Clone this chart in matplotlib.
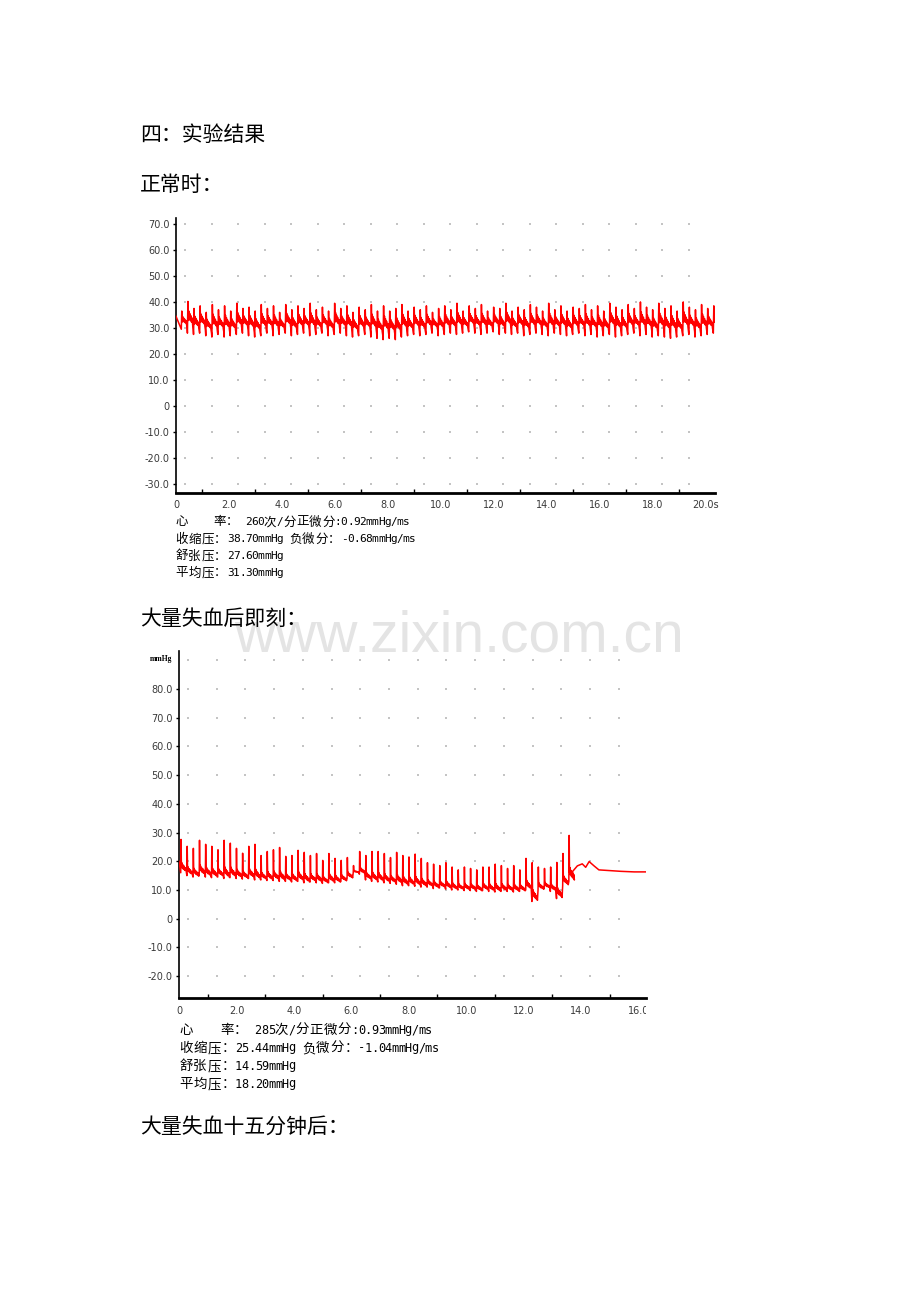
import numpy as np
import matplotlib
matplotlib.use("Agg")
from matplotlib import pyplot as plt
from matplotlib.transforms import Bbox, TransformedBbox

W, H = 920, 1302

# ---------------- chart 1: normal (正常时) ----------------
hr1 = 260                 # beats / min, from the stats box
first_beat1 = 0.20        # s, first upstroke
start_value1 = 34.5       # mmHg at t = 0
peaks1 = [36.5, 40.2, 37.5, 38.5, 36.0, 39.0, 37.0, 38.5, 36.5, 39.5, 37.5, 38.0, 36.5, 39.0, 37.5, 38.5, 36.0, 39.0, 37.0, 38.5, 37.5, 39.5,
          37.0, 38.0, 36.5, 39.5, 37.5, 38.5, 36.0, 38.0, 37.0, 39.0, 36.5, 38.5, 36.5, 37.5, 39.0, 36.5, 38.0, 37.0, 38.5, 36.0, 37.5, 38.5,
          37.0, 39.5, 36.5, 38.5, 37.5, 39.0, 36.5, 38.0, 37.5, 39.5, 36.5, 38.0, 37.0, 39.0, 38.0, 36.5, 39.5, 37.0, 38.5, 36.5, 38.0, 37.5,
          39.0, 37.0, 38.5, 36.5, 39.5, 38.0, 37.0, 39.0, 37.5, 40.0, 38.0, 37.0, 39.5, 37.5, 38.5, 36.5, 40.0, 38.0, 37.0, 39.0, 37.5, 38.5, 36.0]
troughs1 = [29.5, 28.0, 27.5, 28.0, 27.0, 26.5, 27.5, 26.5, 27.0, 27.5, 28.0, 27.0, 26.5, 27.0, 28.0, 27.0, 27.5, 28.0, 27.0, 27.5, 28.0, 27.0,
            27.5, 28.0, 27.0, 27.5, 28.0, 27.0, 26.5, 27.0, 27.5, 26.5, 26.0, 25.5, 26.0, 25.5, 26.5, 27.0, 27.5, 27.0, 27.5, 28.0, 27.0, 27.5,
            28.0, 27.5, 28.0, 28.5, 28.0, 27.5, 28.0, 28.5, 27.5, 28.0, 27.5, 28.0, 27.0, 27.5, 28.0, 27.5, 27.0, 28.0, 27.5, 27.0, 27.5, 28.0,
            27.0, 27.5, 26.5, 27.0, 27.5, 26.5, 27.0, 27.5, 28.0, 27.0, 27.5, 26.5, 27.0, 26.5, 26.0, 26.5, 27.0, 27.5, 26.5, 27.0, 27.5, 28.0, 28.5]
yticks1 = [70, 60, 50, 40, 30, 20, 10, 0, -10, -20, -30]
xlabels1 = ["0", "2.0", "4.0", "6.0", "8.0", "10.0", "12.0", "14.0", "16.0", "18.0", "20.0s"]
stats1 = ["心    率： 260次/分正微分:0.92mmHg/ms",
          "收缩压：38.70mmHg 负微分：-0.68mmHg/ms",
          "舒张压：27.60mmHg",
          "平均压：31.30mmHg"]

# ---------------- chart 2: right after heavy bleeding ----------------
first_beat2 = 0.06
beat_period2 = 0.2145
start_value2 = 20.0
peaks2 = [27.6, 25.2, 24.5, 27.3, 25.9, 25.2, 24.0, 27.3, 26.3, 24.5, 22.8, 25.2, 25.9, 22.0, 23.4, 24.0,
          24.8, 21.7, 22.0, 23.8, 23.1, 22.0, 22.7, 20.3, 22.7, 21.0, 20.3, 21.3, 18.5, 23.4, 22.0, 23.4,
          23.4, 22.7, 21.3, 23.1, 22.0, 21.5, 22.5, 21.0, 19.5, 19.0, 18.5, 19.5, 18.0, 17.0, 18.0, 17.5,
          17.0, 18.0, 18.0, 19.0, 18.5, 17.5, 18.5, 17.0, 21.0, 19.5, 18.0, 17.5, 18.0, 19.6, 22.7, 29.0]
troughs2 = [16.0, 15.0, 14.5, 15.0, 14.5, 14.3, 14.5, 14.0, 14.3, 14.0, 13.8, 14.0, 13.5, 13.5, 13.3, 13.3,
            13.0, 13.0, 12.8, 13.0, 12.5, 12.8, 12.5, 12.3, 12.5, 12.5, 13.0, 14.0, 16.0, 15.5, 13.5, 13.0,
            12.8, 12.5, 12.3, 12.0, 11.5, 11.5, 11.3, 11.0, 11.0, 10.5, 10.7, 10.3, 10.0, 10.0, 9.8, 9.8,
            9.5, 9.8, 9.5, 9.3, 9.5, 9.5, 9.3, 9.5, 10.0, 6.0, 10.0, 10.5, 9.5, 7.0, 11.5, 13.0]
tail_t2 = [13.70, 13.87, 14.04, 14.16, 14.28, 14.45, 14.62, 14.92, 15.38, 15.85, 16.30]
tail_v2 = [16.4, 18.4, 19.1, 17.9, 19.9, 18.4, 17.0, 16.8, 16.5, 16.3, 16.3]
yticks2 = [80, 70, 60, 50, 40, 30, 20, 10, 0, -10, -20]
xlabels2 = ["0", "2.0", "4.0", "6.0", "8.0", "10.0", "12.0", "14.0", "16.0"]
stats2 = ["心    率： 285次/分正微分:0.93mmHg/ms",
          "收缩压：25.44mmHg 负微分：-1.04mmHg/ms",
          "舒张压：14.59mmHg",
          "平均压：18.20mmHg"]

# beat outline (fraction of period, fraction of beat amplitude)
shape1 = [(0.0, 0.0), (0.08, 1.0), (0.15, 0.40), (0.22, 0.70), (0.30, 0.45), (0.38, 0.62),
          (0.47, 0.40), (0.56, 0.55), (0.66, 0.35), (0.76, 0.48), (0.86, 0.25), (0.94, 0.12)]
shape2 = [(0.0, 0.0), (0.05, 1.0), (0.11, 0.20), (0.18, 0.30), (0.26, 0.14), (0.35, 0.24),
          (0.45, 0.10), (0.56, 0.20), (0.68, 0.07), (0.80, 0.15), (0.90, 0.03)]

RED = "#ff0000"
LBL = "#3a3a3a"


def pulse_wave(t_start, period, peaks, troughs, shape):
    ts, vs = [], []
    for i in range(len(peaks)):
        t0 = t_start + i * period
        amp = peaks[i] - troughs[i]
        for f, a in shape:
            ts.append(t0 + f * period)
            vs.append(troughs[i] + a * amp)
    return ts, vs


def fig_xy(x, y):
    return x / W, 1 - y / H


def setup_axes(rect_px, xmax, ylo, yhi, yticks, xlabels, dot_rows, dot_off):
    l, t, r, b = rect_px
    ax = fig.add_axes([l / W, 1 - b / H, (r - l) / W, (b - t) / H])
    ax.set_facecolor("none")
    ax.set_xlim(0, xmax)
    ax.set_ylim(ylo, yhi)
    for s in ["top", "right"]:
        ax.spines[s].set_visible(False)
    ax.spines["left"].set_linewidth(1.2)
    ax.spines["bottom"].set_linewidth(2.0)
    ax.set_yticks(yticks)
    ax.set_yticklabels(["0" if v == 0 else "%.1f" % v for v in yticks])
    ax.tick_params(axis="y", direction="out", length=2.5, width=1, pad=2,
                   labelsize=7, labelcolor=LBL)
    ax.set_xticks(np.arange(0, 2 * len(xlabels), 2))
    ax.set_xticklabels(xlabels)
    ax.set_xticks(np.arange(1, xmax, 2), minor=True)
    ax.tick_params(axis="x", which="major", length=0, pad=5, labelsize=7, labelcolor=LBL)
    ax.tick_params(axis="x", which="minor", direction="in", length=3, width=1)
    # dotted background grid
    gx, gy = np.meshgrid(np.arange(dot_off, xmax, 1.0), dot_rows)
    ax.scatter(gx.ravel(), gy.ravel(), s=1.0, marker="s", color="#c4c4c4",
               linewidths=0, zorder=1)
    return ax


def draw_stats(x0, y0, lines, dy, cjk_w, asc_w, cjk_size, asc_size):
    for j, line in enumerate(lines):
        x = x0
        y = y0 + j * dy
        for ch in line:
            wide = ord(ch) > 0x2e80
            w = cjk_w if wide else asc_w
            if ch != " ":
                fx, fy = fig_xy(x + w / 2, y)
                fig.text(fx, fy, ch, ha="center", va="center",
                         fontsize=cjk_size if wide else asc_size,
                         family=["Noto Sans CJK SC", "DejaVu Sans"] if wide else ["DejaVu Sans Mono"],
                         color="black")
            x += w


fig = plt.figure(figsize=(W / 100, H / 100), dpi=100)
fig.patch.set_facecolor("white")

# watermark
fx, fy = fig_xy(459, 651)
fig.text(fx, fy, "www.zixin.com.cn", ha="center", va="baseline", fontsize=41,
         family="Liberation Sans", color="#e4e4e4", zorder=0)

# headings
head = {"fontsize": 15, "family": ["Noto Sans CJK SC", "DejaVu Sans"], "va": "center", "ha": "left"}
for txt, yy in [("四：实验结果", 135), ("正常时：", 185), ("大量失血后即刻：", 619),
                ("大量失血十五分钟后：", 1127)]:
    fx, fy = fig_xy(140, yy)
    fig.text(fx, fy, txt, **head)

# chart 1
ax1 = setup_axes((176, 218, 715, 493), 20.34, -33.5, 72.3, yticks1, xlabels1,
                 yticks1, 0.34)
t1, v1 = pulse_wave(first_beat1, 60.0 / hr1, peaks1, troughs1, shape1)
t1 = [0.0] + t1
v1 = [start_value1] + v1
ax1.plot(t1, v1, color=RED, lw=1.1, zorder=3)
draw_stats(175, 522, stats1, 17, 13.0, 6.2, 9, 8)

# chart 2
ax2 = setup_axes((179, 651, 646, 998), 16.26, -27.6, 93.2, yticks2, xlabels2,
                 [90] + yticks2, 0.31)
ax2.tick_params(axis="x", which="major", pad=6)
t2, v2 = pulse_wave(first_beat2, beat_period2, peaks2, troughs2, shape2)
t2 = [0.0] + t2 + tail_t2
v2 = [start_value2] + v2 + tail_v2
ax2.plot(t2, v2, color=RED, lw=1.1, zorder=3)
# last x label is cut at the end of the axis
clip = TransformedBbox(Bbox.from_extents(-0.1, -0.2, 1.0, 0.0), ax2.transAxes)
last = ax2.get_xticklabels()[-1]
last.set_clip_on(True)
last.set_clip_box(clip)
fx, fy = fig_xy(150, 659)
fig.text(fx, fy, "mmHg", ha="left", va="center", fontsize=5.5, weight="bold",
         family="Liberation Serif", color="black")
draw_stats(179, 1030, stats2, 18, 14.0, 6.7, 9.7, 8.6)

fig.savefig("out.png", dpi=100)
